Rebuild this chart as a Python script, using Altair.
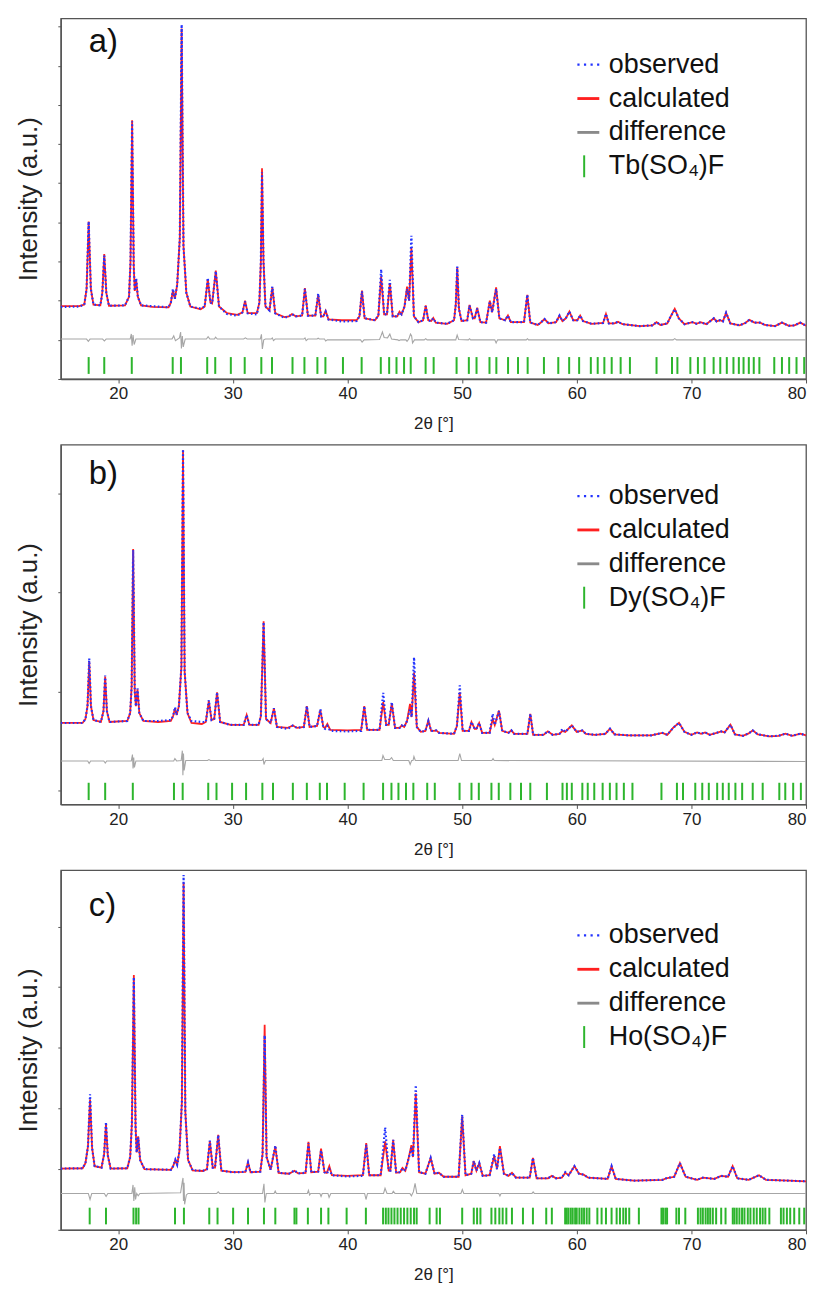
import altair as alt
import pandas as pd

FONT = "Liberation Sans"

# ---------------- data ----------------
X_TICKS = [20, 30, 40, 50, 60, 70, 80]
SERIES_COLORS = ["#2233ff", "#ff2020", "#8a8a8a", "#2db52d"]
LABELS_A = ["observed", "calculated", "difference", "Tb(SO₄)F"]
LABELS_B = ["observed", "calculated", "difference", "Dy(SO₄)F"]
LABELS_C = ["observed", "calculated", "difference", "Ho(SO₄)F"]

# (2theta, calculated, observed)
A_PROFILE = [
    (15.0, 1.86, 1.84), (16.6, 1.86, 1.85), (17.05, 1.90, 1.90), (17.25, 2.3, 2.3),
    (17.43, 4.02, 4.02), (17.62, 2.3, 2.3), (17.85, 1.9, 1.9), (18.45, 1.88, 1.88),
    (18.62, 2.2, 2.2), (18.79, 3.19, 3.15), (18.97, 2.2, 2.2), (19.2, 1.87, 1.87),
    (20.6, 1.88, 1.88), (20.95, 2.1, 2.1), (21.08, 3.0, 3.0), (21.22, 6.61, 6.58),
    (21.36, 2.9, 2.9), (21.45, 2.25, 2.25), (21.57, 2.55, 2.57), (21.72, 2.1, 2.1),
    (22.0, 1.88, 1.88), (23.0, 1.84, 1.86), (24.4, 1.83, 1.83), (24.6, 1.95, 1.95),
    (24.78, 2.26, 2.3), (24.95, 2.05, 2.05), (25.15, 2.4, 2.4), (25.38, 3.6, 3.6),
    (25.54, 8.95, 9.05), (25.7, 3.4, 3.4), (25.95, 2.2, 2.2), (26.3, 1.85, 1.85),
    (27.2, 1.78, 1.8), (27.55, 1.85, 1.85), (27.82, 2.55, 2.58), (28.05, 1.95, 1.95),
    (28.2, 1.93, 1.93), (28.52, 2.77, 2.75), (28.8, 1.85, 1.85), (29.5, 1.68, 1.66),
    (30.4, 1.64, 1.62), (30.85, 1.7, 1.7), (31.07, 2.0, 1.98), (31.3, 1.68, 1.68),
    (32.1, 1.68, 1.65), (32.32, 1.95, 1.95), (32.45, 3.0, 3.0), (32.55, 5.38, 5.28),
    (32.68, 3.0, 3.0), (32.85, 1.85, 1.85), (33.2, 1.75, 1.75), (33.45, 2.34, 2.36),
    (33.7, 1.68, 1.68), (34.5, 1.58, 1.56), (34.9, 1.6, 1.6), (35.16, 1.66, 1.66),
    (35.5, 1.6, 1.6), (36.05, 1.62, 1.62), (36.29, 2.32, 2.3), (36.55, 1.62, 1.62),
    (37.2, 1.62, 1.62), (37.45, 2.15, 2.18), (37.7, 1.6, 1.6), (37.9, 1.6, 1.6),
    (38.1, 1.74, 1.72), (38.35, 1.52, 1.52), (39.5, 1.5, 1.47), (40.8, 1.5, 1.48),
    (41.05, 1.6, 1.6), (41.27, 2.26, 2.24), (41.5, 1.55, 1.55), (42.4, 1.5, 1.5),
    (42.7, 1.62, 1.62), (42.94, 2.62, 2.8), (43.2, 1.65, 1.65), (43.45, 1.65, 1.65),
    (43.7, 2.45, 2.53), (43.95, 1.6, 1.6), (44.35, 1.6, 1.6), (44.54, 1.72, 1.7),
    (44.72, 1.65, 1.65), (44.98, 1.85, 1.85), (45.2, 2.36, 2.3), (45.38, 2.0, 2.0),
    (45.58, 3.35, 3.66), (45.8, 1.6, 1.6), (46.2, 1.45, 1.45), (46.6, 1.5, 1.5),
    (46.83, 1.88, 1.86), (47.05, 1.5, 1.5), (47.3, 1.48, 1.48), (47.49, 1.56, 1.55),
    (47.7, 1.44, 1.44), (48.7, 1.41, 1.41), (49.3, 1.5, 1.5), (49.45, 1.9, 1.9),
    (49.58, 2.85, 2.87), (49.72, 1.8, 1.8), (49.95, 1.48, 1.48), (50.45, 1.5, 1.5),
    (50.65, 1.89, 1.88), (50.95, 1.55, 1.55), (51.1, 1.55, 1.55), (51.32, 1.82, 1.8),
    (51.6, 1.45, 1.45), (52.1, 1.44, 1.44), (52.42, 2.0, 1.98), (52.62, 1.7, 1.7),
    (52.97, 2.34, 2.3), (53.25, 1.55, 1.55), (53.75, 1.5, 1.5), (54.0, 1.62, 1.62),
    (54.25, 1.45, 1.45), (55.4, 1.45, 1.45), (55.69, 2.15, 2.15), (55.95, 1.44, 1.44),
    (56.6, 1.38, 1.38), (56.9, 1.45, 1.45), (57.19, 1.53, 1.53), (57.55, 1.42, 1.42),
    (58.2, 1.45, 1.45), (58.5, 1.62, 1.62), (58.75, 1.48, 1.48), (59.05, 1.55, 1.55),
    (59.36, 1.72, 1.72), (59.7, 1.5, 1.5), (60.05, 1.5, 1.5), (60.3, 1.62, 1.62),
    (60.55, 1.48, 1.48), (61.3, 1.41, 1.41), (62.3, 1.43, 1.43), (62.55, 1.66, 1.66),
    (62.8, 1.42, 1.42), (63.3, 1.42, 1.42), (63.6, 1.46, 1.46), (64.0, 1.4, 1.4),
    (65.5, 1.35, 1.35), (66.6, 1.37, 1.37), (66.96, 1.45, 1.45), (67.3, 1.38, 1.38),
    (67.9, 1.42, 1.42), (68.2, 1.6, 1.6), (68.55, 1.79, 1.78), (68.9, 1.55, 1.55),
    (69.4, 1.4, 1.4), (70.1, 1.45, 1.45), (70.45, 1.41, 1.41), (70.8, 1.45, 1.45),
    (71.3, 1.4, 1.4), (71.96, 1.55, 1.55), (72.2, 1.47, 1.47), (72.5, 1.5, 1.5),
    (72.75, 1.47, 1.47), (73.03, 1.69, 1.69), (73.4, 1.42, 1.42), (74.2, 1.37, 1.37),
    (74.7, 1.43, 1.43), (75.06, 1.51, 1.51), (75.5, 1.44, 1.44), (76.0, 1.44, 1.44),
    (76.4, 1.38, 1.38), (77.3, 1.35, 1.35), (77.9, 1.44, 1.44), (78.5, 1.36, 1.36),
    (79.0, 1.37, 1.37), (79.5, 1.44, 1.44), (80.0, 1.36, 1.36),
]
A_DIFF = [
    (15.0, 1.02), (17.25, 1.02), (17.4, 0.96), (17.55, 1.02),
    (18.65, 1.02), (18.8, 0.97), (18.95, 1.02),
    (21.05, 1.02), (21.15, 1.15), (21.22, 0.85), (21.3, 1.12), (21.4, 0.88), (21.55, 1.02),
    (24.7, 1.02), (24.85, 1.1), (25.0, 0.98), (25.35, 1.05), (25.45, 1.2), (25.52, 0.78),
    (25.6, 1.1), (25.68, 0.82), (25.85, 1.02),
    (27.7, 1.02), (27.85, 1.08), (28.0, 1.02), (28.4, 1.02), (28.5, 1.07), (28.65, 1.02),
    (30.95, 1.02), (31.1, 1.05), (31.25, 1.02),
    (32.4, 1.02), (32.5, 1.14), (32.58, 0.77), (32.7, 1.0), (32.85, 1.02),
    (33.35, 1.02), (33.45, 1.05), (33.55, 0.98), (33.7, 1.02),
    (36.2, 1.02), (36.3, 1.05), (36.4, 0.98), (36.55, 1.02),
    (37.35, 1.02), (37.45, 1.04), (37.55, 1.02),
    (38.0, 1.02), (38.1, 0.97), (38.25, 1.0),
    (41.15, 1.0), (41.28, 0.94), (41.45, 1.0),
    (42.8, 1.01), (42.95, 1.12), (43.05, 1.2), (43.2, 1.06), (43.5, 1.05), (43.7, 1.15),
    (43.85, 1.02), (44.4, 1.0), (44.5, 0.98), (44.65, 1.0),
    (45.1, 1.0), (45.2, 0.96), (45.35, 1.02), (45.5, 1.15), (45.6, 1.1), (45.68, 0.92),
    (45.85, 1.0), (46.7, 1.0), (46.83, 1.03), (46.95, 1.0),
    (49.45, 1.0), (49.57, 1.12), (49.7, 1.01),
    (50.55, 1.0), (50.65, 1.03), (50.75, 1.0),
    (52.85, 1.0), (52.97, 0.92), (53.1, 1.0),
    (55.6, 1.0), (55.7, 1.03), (55.8, 1.0),
    (68.4, 1.0), (68.55, 1.03), (68.7, 1.0),
    (80.0, 1.0),
]
A_TICKS = [17.43, 18.79, 21.19, 24.76, 25.48, 27.77, 28.47, 29.83, 31.04, 32.49, 33.42,
           35.21, 36.25, 37.38, 38.08, 39.61, 41.24, 42.91, 43.64, 44.28, 44.94, 45.52,
           46.82, 47.52, 49.52, 50.59, 51.26, 52.39, 52.99, 54.01, 54.88, 55.72, 57.14,
           58.39, 59.34, 60.21, 61.23, 61.83, 62.41, 63.05, 63.83, 64.64, 66.96, 68.31,
           68.78, 69.91, 70.57, 71.15, 71.94, 72.52, 73.09, 73.67, 74.14, 74.55, 75.01,
           75.44, 75.93, 77.23, 77.9, 78.53, 79.17, 79.84]

B_PROFILE = [
    (15.0, 0.68, 0.68), (16.9, 0.68, 0.68), (17.15, 0.72, 0.72), (17.33, 0.85, 0.85),
    (17.48, 1.30, 1.334), (17.63, 0.85, 0.85), (17.85, 0.71, 0.71), (18.5, 0.69, 0.69),
    (18.72, 0.8, 0.8), (18.87, 1.15, 1.16), (19.02, 0.8, 0.8), (19.25, 0.69, 0.69),
    (20.8, 0.7, 0.7), (21.05, 0.78, 0.78), (21.18, 1.05, 1.05), (21.31, 2.44, 2.43),
    (21.45, 1.0, 1.0), (21.55, 0.85, 0.85), (21.69, 1.02, 1.03), (21.85, 0.78, 0.78),
    (22.2, 0.7, 0.7), (23.5, 0.69, 0.7), (24.6, 0.7, 0.71), (24.8, 0.75, 0.75),
    (24.96, 0.83, 0.84), (25.1, 0.76, 0.76), (25.3, 0.85, 0.85), (25.52, 1.25, 1.25),
    (25.66, 3.44, 3.45), (25.8, 1.2, 1.2), (26.05, 0.78, 0.78), (26.4, 0.68, 0.7),
    (27.3, 0.67, 0.69), (27.65, 0.69, 0.69), (27.91, 0.9, 0.91), (28.15, 0.71, 0.71),
    (28.38, 0.72, 0.72), (28.63, 0.99, 0.99), (28.9, 0.69, 0.69), (29.8, 0.66, 0.66),
    (30.95, 0.66, 0.66), (31.21, 0.76, 0.76), (31.45, 0.66, 0.66), (32.25, 0.66, 0.66),
    (32.45, 0.75, 0.75), (32.69, 1.71, 1.70), (32.9, 0.72, 0.72), (33.3, 0.68, 0.68),
    (33.59, 0.83, 0.83), (33.85, 0.64, 0.64), (34.8, 0.63, 0.62), (35.24, 0.655, 0.655),
    (35.6, 0.63, 0.63), (36.2, 0.64, 0.64), (36.46, 0.85, 0.85), (36.7, 0.64, 0.64),
    (37.35, 0.65, 0.65), (37.64, 0.81, 0.82), (37.9, 0.64, 0.63), (38.05, 0.63, 0.62),
    (38.25, 0.67, 0.65), (38.5, 0.61, 0.6), (40.0, 0.605, 0.595), (41.2, 0.61, 0.6),
    (41.47, 0.85, 0.85), (41.72, 0.61, 0.61), (42.8, 0.61, 0.61), (43.12, 0.89, 0.985),
    (43.38, 0.66, 0.66), (43.6, 0.66, 0.66), (43.87, 0.88, 0.89), (44.15, 0.63, 0.63),
    (44.55, 0.63, 0.63), (44.74, 0.655, 0.655), (44.95, 0.64, 0.64), (45.2, 0.7, 0.7),
    (45.46, 0.874, 0.82), (45.6, 0.74, 0.74), (45.81, 1.19, 1.345), (46.05, 0.64, 0.64),
    (46.4, 0.59, 0.59), (46.8, 0.6, 0.6), (47.06, 0.706, 0.7), (47.3, 0.6, 0.6),
    (47.55, 0.6, 0.6), (47.75, 0.605, 0.605), (48.0, 0.58, 0.58), (49.3, 0.57, 0.57),
    (49.55, 0.65, 0.65), (49.8, 0.99, 1.06), (50.05, 0.6, 0.6), (50.6, 0.6, 0.6),
    (50.82, 0.69, 0.69), (51.1, 0.62, 0.62), (51.25, 0.62, 0.62), (51.49, 0.68, 0.68),
    (51.75, 0.58, 0.58), (52.4, 0.58, 0.58), (52.67, 0.72, 0.773), (52.85, 0.66, 0.66),
    (53.22, 0.806, 0.8), (53.5, 0.6, 0.6), (54.05, 0.58, 0.58), (54.3, 0.605, 0.605),
    (54.55, 0.57, 0.57), (55.7, 0.57, 0.57), (55.95, 0.773, 0.773), (56.2, 0.56, 0.56),
    (57.1, 0.56, 0.56), (57.48, 0.595, 0.595), (57.9, 0.56, 0.56), (58.5, 0.57, 0.57),
    (58.75, 0.6, 0.62), (59.0, 0.59, 0.59), (59.57, 0.655, 0.655), (60.0, 0.59, 0.59),
    (60.49, 0.605, 0.605), (60.8, 0.57, 0.57), (61.6, 0.56, 0.56), (62.5, 0.57, 0.57),
    (62.9, 0.622, 0.622), (63.3, 0.565, 0.565), (64.5, 0.555, 0.555), (66.5, 0.555, 0.555),
    (67.47, 0.58, 0.58), (67.9, 0.56, 0.56), (68.4, 0.63, 0.63), (68.92, 0.682, 0.68),
    (69.4, 0.59, 0.59), (70.0, 0.56, 0.56), (70.5, 0.585, 0.585), (70.85, 0.57, 0.57),
    (71.2, 0.585, 0.585), (71.6, 0.56, 0.56), (72.2, 0.58, 0.58), (72.6, 0.595, 0.595),
    (72.9, 0.585, 0.585), (73.41, 0.662, 0.662), (73.8, 0.565, 0.565), (74.5, 0.55, 0.55),
    (75.0, 0.575, 0.575), (75.35, 0.605, 0.605), (75.8, 0.565, 0.565), (76.8, 0.545, 0.545),
    (77.6, 0.55, 0.55), (78.2, 0.572, 0.572), (78.8, 0.55, 0.55), (79.5, 0.572, 0.572),
    (80.0, 0.554, 0.554),
]
B_DIFF = [
    (15.0, 0.296), (17.35, 0.296), (17.47, 0.27), (17.6, 0.296),
    (18.75, 0.296), (18.88, 0.275), (19.0, 0.296),
    (21.15, 0.296), (21.25, 0.36), (21.3, 0.22), (21.36, 0.33), (21.42, 0.23), (21.55, 0.296),
    (24.85, 0.296), (24.95, 0.32), (25.1, 0.296),
    (25.5, 0.3), (25.6, 0.40), (25.65, 0.15), (25.7, 0.37), (25.76, 0.2), (25.9, 0.3),
    (27.8, 0.3), (27.92, 0.31), (28.05, 0.3),
    (32.55, 0.3), (32.65, 0.32), (32.72, 0.26), (32.85, 0.3),
    (43.0, 0.3), (43.1, 0.35), (43.25, 0.31), (43.7, 0.31), (43.85, 0.33), (44.0, 0.3),
    (45.35, 0.3), (45.47, 0.26), (45.6, 0.3), (45.72, 0.3), (45.8, 0.34), (45.92, 0.3),
    (49.65, 0.3), (49.8, 0.37), (49.95, 0.3),
    (52.6, 0.3), (52.7, 0.32), (52.8, 0.3),
    (80.0, 0.29),
]
B_TICKS = [17.43, 18.87, 21.28, 24.87, 25.63, 27.86, 28.58, 29.94, 31.16, 32.58, 33.51,
           35.24, 36.46, 37.59, 38.22, 39.76, 41.41, 43.11, 43.84, 44.45, 45.11, 45.75,
           46.96, 47.62, 49.78, 50.82, 51.46, 52.56, 53.2, 54.21, 55.14, 55.95, 57.4,
           58.76, 59.14, 59.57, 60.49, 60.96, 61.53, 62.26, 62.89, 63.47, 64.11, 64.86,
           67.39, 68.74, 69.27, 70.34, 70.95, 71.52, 72.25, 72.74, 73.26, 73.84, 74.43,
           75.35, 76.22, 77.67, 78.19, 78.88, 79.55]

C_PROFILE = [
    (15.0, 2.02, 2.02), (16.9, 2.03, 2.03), (17.15, 2.2, 2.2), (17.37, 2.75, 2.75),
    (17.55, 4.3, 4.47), (17.73, 2.7, 2.7), (17.95, 2.1, 2.1), (18.55, 2.05, 2.05),
    (18.78, 2.5, 2.5), (18.94, 3.5, 3.55), (19.1, 2.45, 2.45), (19.35, 2.02, 2.02),
    (20.8, 2.03, 2.03), (21.05, 2.4, 2.4), (21.2, 3.5, 3.5), (21.37, 8.4, 8.33),
    (21.52, 3.4, 3.4), (21.62, 2.55, 2.55), (21.75, 3.08, 3.05), (21.92, 2.3, 2.3),
    (22.3, 2.0, 2.0), (24.6, 1.98, 1.98), (24.8, 2.1, 2.1), (24.99, 2.3, 2.31),
    (25.15, 2.15, 2.15), (25.35, 2.6, 2.6), (25.56, 4.2, 4.2), (25.71, 11.45, 11.7),
    (25.86, 3.9, 3.9), (26.1, 2.3, 2.3), (26.5, 1.96, 1.96), (27.4, 1.94, 1.95),
    (27.75, 2.0, 2.0), (28.0, 2.93, 2.94), (28.25, 2.05, 2.05), (28.45, 2.05, 2.05),
    (28.73, 3.13, 3.12), (29.0, 1.95, 1.95), (30.0, 1.9, 1.9), (31.1, 1.91, 1.91),
    (31.33, 2.23, 2.22), (31.55, 1.9, 1.9), (32.4, 1.92, 1.92), (32.6, 2.5, 2.5),
    (32.78, 6.76, 6.41), (32.95, 2.4, 2.4), (33.3, 1.98, 1.98), (33.71, 2.75, 2.78),
    (34.0, 1.88, 1.88), (34.9, 1.85, 1.85), (35.38, 1.95, 1.96), (35.7, 1.86, 1.86),
    (36.35, 1.88, 1.88), (36.6, 2.9, 2.85), (36.85, 1.9, 1.9), (37.45, 1.92, 1.92),
    (37.7, 2.68, 2.62), (38.0, 1.9, 1.9), (38.2, 1.88, 1.85), (38.42, 2.1, 2.0),
    (38.65, 1.8, 1.8), (40.0, 1.78, 1.76), (41.35, 1.8, 1.78), (41.64, 2.86, 2.8),
    (41.9, 1.8, 1.8), (42.9, 1.8, 1.8), (43.29, 2.92, 3.38), (43.6, 1.95, 1.95),
    (43.75, 1.95, 1.95), (43.99, 2.97, 2.97), (44.25, 1.88, 1.88), (44.6, 1.9, 1.9),
    (44.8, 2.04, 2.02), (45.05, 1.95, 1.95), (45.3, 2.3, 2.3), (45.58, 2.79, 2.7),
    (45.72, 2.4, 2.4), (45.96, 4.5, 4.77), (46.25, 1.9, 1.9), (46.8, 1.85, 1.85),
    (47.26, 2.37, 2.37), (47.6, 1.85, 1.85), (47.98, 1.88, 1.88), (48.4, 1.75, 1.75),
    (49.7, 1.75, 1.75), (50.01, 3.74, 3.8), (50.3, 1.8, 1.8), (50.8, 1.85, 1.85),
    (51.02, 2.27, 2.27), (51.25, 1.95, 1.95), (51.5, 2.2, 2.2), (51.8, 1.78, 1.78),
    (52.4, 1.8, 1.8), (52.8, 2.43, 2.5), (53.05, 2.0, 2.0), (53.3, 2.76, 2.7),
    (53.65, 1.85, 1.85), (54.05, 1.78, 1.78), (54.35, 1.88, 1.88), (54.7, 1.72, 1.72),
    (55.9, 1.72, 1.72), (56.18, 2.37, 2.37), (56.5, 1.7, 1.7), (57.5, 1.7, 1.7),
    (57.83, 1.78, 1.78), (58.2, 1.7, 1.7), (58.7, 1.72, 1.72), (59.0, 1.88, 1.9),
    (59.3, 1.8, 1.8), (59.8, 2.1, 2.1), (60.2, 1.85, 1.85), (60.6, 1.82, 1.82),
    (61.0, 1.72, 1.72), (62.7, 1.68, 1.68), (63.04, 2.1, 2.1), (63.4, 1.68, 1.68),
    (65.0, 1.62, 1.62), (67.5, 1.65, 1.65), (67.8, 1.7, 1.7), (68.5, 1.75, 1.75),
    (69.0, 2.2, 2.2), (69.5, 1.75, 1.75), (70.5, 1.65, 1.65), (71.0, 1.72, 1.72),
    (72.0, 1.68, 1.68), (72.6, 1.78, 1.78), (73.2, 1.75, 1.75), (73.6, 2.1, 2.1),
    (74.0, 1.7, 1.7), (75.0, 1.65, 1.65), (75.9, 1.8, 1.8), (76.5, 1.65, 1.65),
    (78.5, 1.62, 1.62), (80.0, 1.6, 1.6),
]
C_DIFF = [
    (15.0, 1.2), (17.4, 1.2), (17.55, 1.0), (17.7, 1.2),
    (18.8, 1.2), (18.95, 1.1), (19.1, 1.2),
    (21.2, 1.2), (21.3, 1.48), (21.37, 0.95), (21.45, 1.4), (21.52, 1.0), (21.62, 1.2),
    (21.75, 1.12), (21.9, 1.2),
    (25.45, 1.22), (25.6, 1.6), (25.66, 1.71), (25.7, 0.95), (25.75, 1.55), (25.8, 0.84),
    (25.95, 1.15), (26.1, 1.2),
    (28.6, 1.2), (28.73, 1.25), (28.85, 1.2),
    (32.6, 1.2), (32.72, 1.52), (32.8, 0.9), (32.92, 1.2),
    (33.6, 1.2), (33.7, 1.28), (33.8, 1.2),
    (36.5, 1.2), (36.6, 1.3), (36.7, 1.15), (36.8, 1.2),
    (37.6, 1.2), (37.7, 1.1), (37.8, 1.2),
    (38.3, 1.2), (38.4, 1.07), (38.55, 1.2),
    (41.5, 1.2), (41.62, 1.0), (41.75, 1.2),
    (43.15, 1.2), (43.28, 1.37), (43.45, 1.2),
    (43.9, 1.2), (44.0, 1.27), (44.15, 1.2),
    (45.45, 1.2), (45.58, 1.12), (45.75, 1.25), (45.9, 1.53), (46.05, 1.2),
    (49.9, 1.2), (50.02, 1.33), (50.15, 1.2),
    (53.2, 1.2), (53.3, 1.12), (53.4, 1.2),
    (56.1, 1.2), (56.2, 1.25), (56.3, 1.2),
    (80.0, 1.2),
]
C_TICKS = [17.52, 18.94, 21.34, 21.57, 21.78, 24.96, 25.74, 27.95, 28.67, 30.03, 31.33,
           32.72, 33.71, 35.38, 35.55, 36.55, 37.7, 38.34, 39.93, 41.61, 43.11, 43.35,
           43.58, 43.84, 44.1, 44.37, 44.65, 44.94, 45.23, 45.52, 45.81, 46.04, 47.17,
           47.78, 48.07, 50.01, 51.02, 51.31, 51.6, 52.56, 52.9, 53.25, 53.54, 53.86,
           54.35, 55.31, 56.18, 57.34, 57.83, 58.99, 59.13, 59.28, 59.48, 59.65, 59.86,
           60.0, 60.23, 60.44, 60.64, 60.87, 61.1, 61.8, 62.17, 62.55, 63.04, 63.48,
           63.77, 64.06, 64.29, 64.58, 65.42, 67.39, 67.53, 67.73, 67.88, 68.69, 68.92,
           69.47, 70.57, 70.8, 71.0, 71.24, 71.44, 71.64, 71.87, 72.16, 72.6, 72.98,
           73.61, 73.76, 73.96, 74.19, 74.42, 74.63, 74.92, 75.15, 75.44, 75.7, 75.99,
           76.22, 76.45, 76.8, 77.81, 78.04, 78.33, 78.62, 78.97, 79.41, 79.84]

# ---------------- legend symbol shapes (unit square paths) ----------------
SYM_DOTS = ("M-1,-0.1h0.2v0.2h-0.2Z M-0.4,-0.1h0.2v0.2h-0.2Z "
            "M0.2,-0.1h0.2v0.2h-0.2Z M0.8,-0.1h0.2v0.2h-0.2Z")
SYM_LINE = "M-1,-0.13h2v0.26h-2Z"
SYM_TICK = "M-0.47,-1h0.18v2h-0.18Z"
SHAPES = [SYM_DOTS, SYM_LINE, SYM_LINE, SYM_TICK]


def panel(tag, profile, diff, ticks, labels, ydom, yticks, tick_span,
          legend_y, tag_y, height):
    calc_df = pd.DataFrame({"t": [p[0] for p in profile], "v": [p[1] for p in profile]})
    obs_df = pd.DataFrame({"t": [p[0] for p in profile], "v": [p[2] for p in profile]})
    diff_df = pd.DataFrame({"t": [d[0] for d in diff], "v": [d[1] for d in diff]})
    tick_df = pd.DataFrame({"t": ticks})
    leg_df = pd.DataFrame({"series": labels, "t": [15.0] * 4, "v": [ydom[0] - 50] * 4})
    tag_df = pd.DataFrame({"lab": [tag]})

    x = alt.X("t:Q", scale=alt.Scale(domain=[15, 80], nice=False, zero=False),
              axis=alt.Axis(values=X_TICKS, title="2θ [°]", format="d",
                            labelFontSize=17, titleFontSize=17, tickSize=4,
                            labelPadding=3, titlePadding=14))
    y = alt.Y("v:Q", scale=alt.Scale(domain=ydom, nice=False, zero=False),
              axis=alt.Axis(values=yticks, labels=False, title="Intensity (a.u.)",
                            titleFontSize=26, tickSize=3, titlePadding=16))

    calc = alt.Chart(calc_df).mark_line(color="#ff2020", strokeWidth=1.8, clip=True).encode(x=x, y=y)
    obs = alt.Chart(obs_df).mark_line(color="#2233ff", strokeWidth=2.2, strokeDash=[1.6, 2.4],
                                      clip=True).encode(x=x, y=y)
    dif = alt.Chart(diff_df).mark_line(color="#a6a6a6", strokeWidth=1.1, clip=True).encode(x=x, y=y)
    tk = alt.Chart(tick_df).mark_rule(color="#2db52d", strokeWidth=2).encode(
        x="t:Q", y=alt.datum(tick_span[0]), y2=alt.datum(tick_span[1]))

    leg = alt.Legend(orient="none", legendX=516, legendY=legend_y, title=None,
                     labelFontSize=27, labelFont=FONT, labelColor="#111111",
                     symbolSize=484, symbolStrokeWidth=0, rowPadding=6,
                     labelOffset=7, padding=0, symbolOpacity=1, labelLimit=400)
    legend_layer = alt.Chart(leg_df).mark_point(filled=True, opacity=1, clip=True).encode(
        x=x, y=y,
        color=alt.Color("series:N", scale=alt.Scale(domain=labels, range=SERIES_COLORS),
                        sort=labels, legend=leg),
        shape=alt.Shape("series:N", scale=alt.Scale(domain=labels, range=SHAPES),
                        sort=labels, legend=leg),
    )
    tag_layer = alt.Chart(tag_df).mark_text(fontSize=33, font=FONT, align="left",
                                            baseline="middle", color="#111111").encode(
        text="lab:N", x=alt.value(28), y=alt.value(tag_y))

    return alt.layer(dif, tk, calc, obs, legend_layer, tag_layer).properties(
        width=748, height=height)


pa = panel("a)", A_PROFILE, A_DIFF, A_TICKS, LABELS_A, [0, 9.21], list(range(0, 10)),
           (0.13, 0.56), 33, 24, 362)
pb = panel("b)", B_PROFILE, B_DIFF, B_TICKS, LABELS_B, [-0.144, 3.495], [0, 1, 2, 3],
           (-0.1, 0.075), 38, 29, 361)
pc = panel("c)", C_PROFILE, C_DIFF, C_TICKS, LABELS_C, [0, 11.86], list(range(0, 12)),
           (0.18, 0.73), 52, 36, 361)

chart = alt.vconcat(pa, pb, pc, spacing=11).resolve_scale(
    color="independent", shape="independent"
).properties(
    padding={"left": 6, "top": 7, "right": 5, "bottom": 0}
).configure_view(
    stroke="#555555", strokeWidth=1.3
).configure_axis(
    grid=False, domainColor="#555555", tickColor="#555555", domainWidth=1.3,
    labelFont=FONT, titleFont=FONT, labelColor="#222222", titleColor="#222222",
    titleFontWeight="normal"
)

chart.save("out.html", embed_options={"renderer": "svg", "actions": False})
